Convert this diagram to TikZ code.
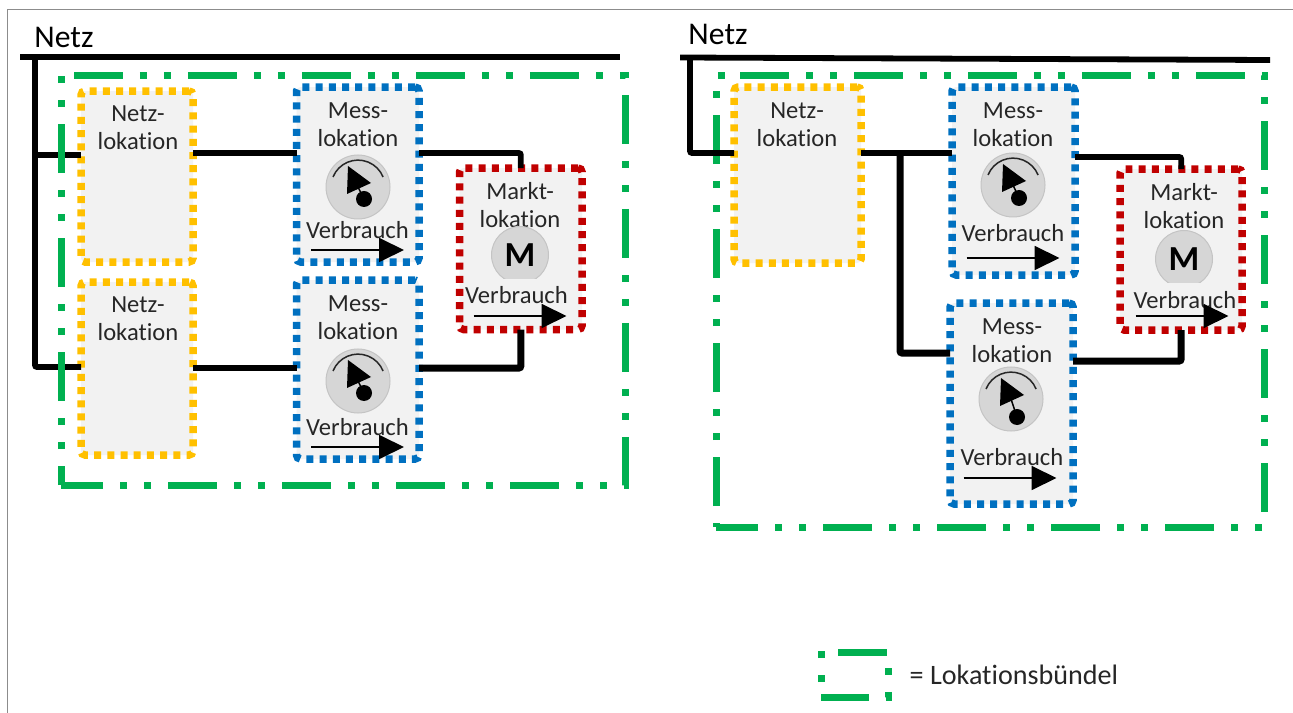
\documentclass[tikz,border=0pt]{standalone}
\usepackage{fontspec}
\setmainfont{Carlito}[Ligatures=NoCommon]
\usepackage{tikz}
\usetikzlibrary{arrows.meta,fit}

\definecolor{gelb}{HTML}{FFC000}
\definecolor{blau}{HTML}{0070C0}
\definecolor{rot}{HTML}{C00000}
\definecolor{gruen}{HTML}{00B050}
\definecolor{boxgrau}{HTML}{F2F2F2}
\definecolor{uhrgrau}{HTML}{D6D6D6}
\definecolor{uhrrand}{HTML}{C4C4C4}

\tikzset{
	every pic/.style={scale=0.1},
	lokbox/.style={fit={#1},inner sep=0pt,outer sep=0pt,fill=boxgrau,line width=0.75mm,
		rounded corners=0.4mm,dash pattern=on 0.7mm off 0.62mm},
	netzbox/.style={lokbox={#1},draw=gelb},
	messbox/.style={lokbox={#1},draw=blau},
	marktbox/.style={lokbox={#1},draw=rot},
	buendel/.style={draw=gruen,line width=0.7mm,dash pattern=on 4.9mm off 1.7mm on 0.7mm off 1.7mm on 0.7mm off 1.7mm},
	netz/.style={black,line width=0.58mm,rounded corners=0.2mm},
	netzdick/.style={black,line width=0.7mm,rounded corners=0.2mm},
	lok/.style={align=center,inner sep=0pt,font=\fontsize{7}{8}\selectfont,text=black!85},
	titel/.style={inner sep=0pt,font=\fontsize{9}{10}\selectfont},
	flowpfeil/.style={black,line width=0.18mm,-{Triangle[length=2.5mm,width=2.4mm]}},
	pics/uhr/.style={code={
		\fill[uhrgrau,draw=uhrrand,line width=0.1mm] (0,0) circle (3.2);
		\draw[black!85,line width=0.15mm] (-2.5,1) arc (158:22:2.7);
		\fill[black] (-1,2.1) -- (1.3,0.4) -- (-1.1,-0.7) -- cycle;
		\draw[black,line width=0.15mm] (0,0) -- (0.6,-#1);
		\fill[black] (0.6,-#1) circle (0.8);
	}},
	pics/zaehler/.style={code={
		\begin{scope}
			\clip (-3,3) rectangle (3,-2.35);
			\fill[uhrgrau,draw=uhrrand,line width=0.1mm] (0,0) circle (2.85);
		\end{scope}
		\node[inner sep=0pt,font=\fontsize{10}{11}\selectfont\bfseries] (-m) at (0,0) {M};
	}},
	pics/verbrauch/.style 2 args={code={
		\coordinate (-s) at (-4.65,0);
		\coordinate (-e) at (4.65,0);
		\node[lok] (-t) at (#1,#2) {Verbrauch};
		\draw[flowpfeil] (-s) -- (-e);
	}}
}

\begin{document}
\begin{tikzpicture}[scale=0.1]
	\useasboundingbox (0,0) rectangle (129.3,-71.3);
	\draw[black!45,line width=0.12mm] (0.75,-71.3) -- (0.75,-0.95) -- (129.3,-0.95);

	% linke Seite
	\node[titel] (netzl) at (6.4,-3.7) {Netz};
	\node[netzbox={(8.1,-9.1) (19.3,-26.2)}] (nl1) {};
	\node[netzbox={(8.1,-28.2) (19.3,-45.5)}] (nl2) {};
	\node[messbox={(29.65,-8.7) (41.9,-26.2)}] (ml1) {};
	\node[messbox={(29.65,-28) (41.9,-45.9)}] (ml2) {};
	\node[marktbox={(45.95,-16.8) (58.2,-32.95)}] (mal) {};
	\node[lok] (nl1t) at (13.8,-12.8) {Netz-\\lokation};
	\node[lok] (nl2t) at (13.8,-31.9) {Netz-\\lokation};
	\node[lok] (ml1t) at (35.8,-12.5) {Mess-\\lokation};
	\node[lok] (ml2t) at (35.8,-31.8) {Mess-\\lokation};
	\node[lok] (malt) at (52,-20.5) {Markt-\\lokation};
	\pic at (35.8,-18.7) {uhr=1.2};
	\pic at (35.8,-38.1) {uhr=1.2};
	\pic at (52,-25.5) {zaehler};
	\pic (v1) at (35.75,-25) {verbrauch={0}{2}};
	\pic (v2) at (35.75,-44.7) {verbrauch={0}{2}};
	\pic (v3) at (52,-31.6) {verbrauch={-0.35}{2.1}};

	\coordinate (busl) at (2,-5.7);
	\coordinate (busr) at (62,-5.7);
	\coordinate (a1) at (3.5,-15.5);
	\coordinate (a2) at (3.5,-36.7);
	\coordinate (j1) at (24,-15.3);
	\coordinate (j2) at (24,-36.8);
	\draw[netz] (busl) -- (busr);
	\draw[netz] (a2 |- busl) -- (a2) -- (nl2.west |- a2);
	\draw[netz] (a1) -- (nl1.west |- a1);
	\draw[netz] (nl1.east |- j1) -- (ml1.west |- j1);
	\draw[netz] (nl2.east |- j2) -- (ml2.west |- j2);
	\draw[netz] (ml1.east |- j1) -| (mal.north);
	\draw[netzdick] (ml2.east |- j2) -| (mal.south);
	\draw[buendel] (7.4,-7.6) -- (62.5,-7.6) -- (62.5,-48.5) -- (6.1,-48.5);
	\draw[buendel,dash phase=3mm] (6.1,-48.5) -- (6.1,-7.6);

	% rechte Seite
	\draw[buendel] (74,-7.6) -- (126.45,-7.6) -- (126.45,-52.7) -- (71.6,-52.7);
	\draw[buendel,dash phase=9.3mm] (71.6,-52.7) -- (71.6,-7.6) -- (74,-7.6);
	\node[titel] (netzr) at (71.8,-3.4) {Netz};
	\node[netzbox={(73.4,-8.7) (86.1,-26.3)}] (nl3) {};
	\node[messbox={(95.2,-8.7) (107.5,-27.5)}] (ml3) {};
	\node[messbox={(95,-30.3) (107.3,-50.4)}] (ml4) {};
	\node[marktbox={(112,-16.9) (124.2,-33)}] (mar) {};
	\node[lok] (nl3t) at (79.7,-12.5) {Netz-\\lokation};
	\node[lok] (ml3t) at (101.3,-12.5) {Mess-\\lokation};
	\node[lok] (ml4t) at (101.2,-34.1) {Mess-\\lokation};
	\node[lok] (mart) at (118.4,-20.6) {Markt-\\lokation};
	\pic at (101.3,-18.5) {uhr=1.3};
	\pic at (101.1,-39.9) {uhr=1.8};
	\pic at (118.4,-25.9) {zaehler};
	\pic (v4) at (101.3,-25.8) {verbrauch={0}{2.5}};
	\pic (v5) at (101,-47.8) {verbrauch={0.2}{2.1}};
	\pic (v6) at (118.2,-31.6) {verbrauch={0.3}{1.6}};

	\coordinate (busa) at (68,-5.75);
	\coordinate (buse) at (127,-6);
	\coordinate (a3) at (69,-15.3);
	\coordinate (j3) at (90,-15.3);
	\coordinate (j4) at (90,-35.3);
	\coordinate (j5) at (100,-15.7);
	\coordinate (j6) at (100,-36.1);
	\draw[netz] (busa) -- (buse);
	\draw[netz] (a3 |- busa) -- (a3) -- (nl3.west |- a3);
	\draw[netz] (nl3.east |- j3) -- (ml3.west |- j3);
	\draw[netzdick] (j3) -- (j4) -- (ml4.west |- j4);
	\draw[netz] (ml3.east |- j5) -| (mar.north);
	\draw[netzdick] (ml4.east |- j6) -| (mar.south);

	% Legende
	\draw[buendel] (83.8,-65.2) -- (88.8,-65.2) -- (88.8,-69.7) -- (82.1,-69.7);
	\draw[buendel,dash phase=4.9mm] (82.1,-69.9) -- (82.1,-65.1);
	\node[lok,anchor=west,font=\fontsize{8}{9}\selectfont] (leg) at (90.9,-67.5) {= Lokationsbündel};
\end{tikzpicture}
\end{document}
